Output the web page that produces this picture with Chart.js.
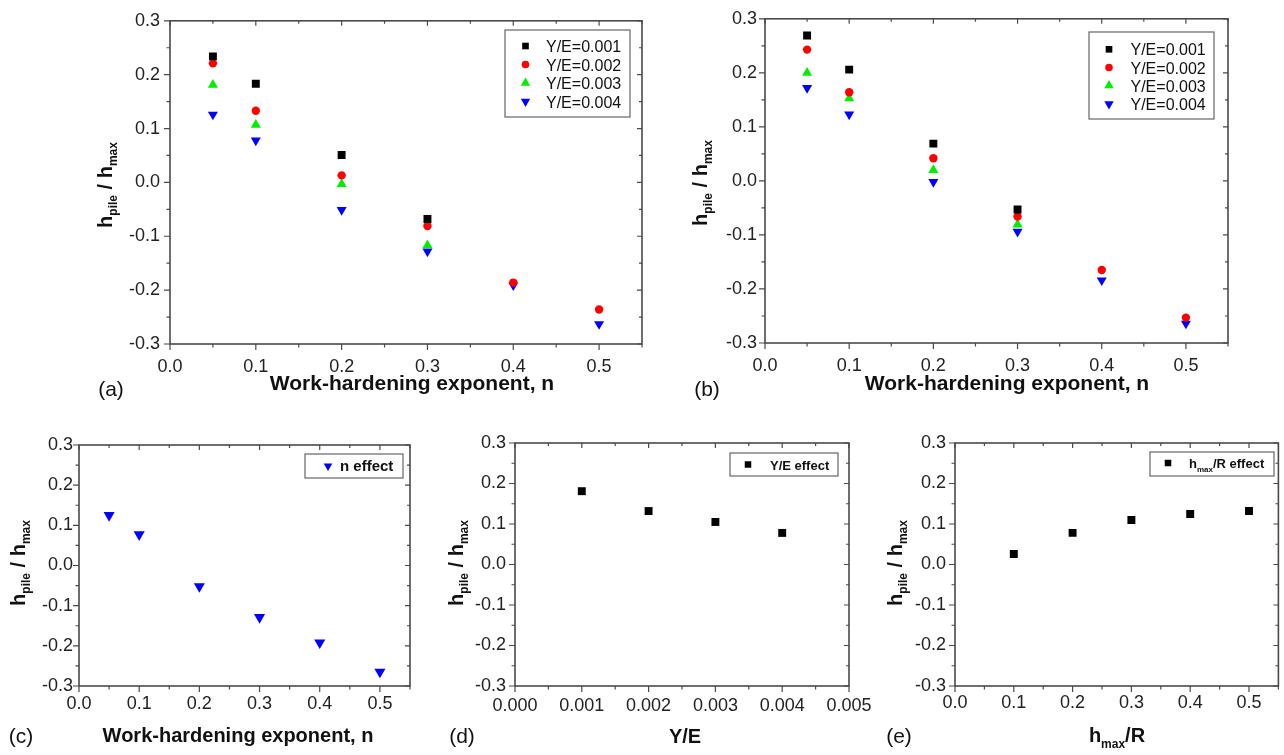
<!DOCTYPE html>
<html><head><meta charset="utf-8">
<script src="https://cdn.jsdelivr.net/npm/chart.js@4.4.0/dist/chart.umd.min.js"></script>
<style>
html,body{margin:0;padding:0;background:#fff;width:1284px;height:755px;overflow:hidden}
#wrap{position:relative;width:1284px;height:755px}
canvas{position:absolute}
</style></head><body>
<div id="wrap">
<canvas id="ca"></canvas><canvas id="cb"></canvas><canvas id="cc"></canvas><canvas id="cd"></canvas><canvas id="ce"></canvas>
</div>
<script>
// ---------------- DATA ----------------
const nValues = [0.05, 0.1, 0.2, 0.3, 0.4, 0.5];
const seriesLabels = ['Y/E=0.001', 'Y/E=0.002', 'Y/E=0.003', 'Y/E=0.004'];
// panel (a)
const a_YE001 = [0.234, 0.183, 0.051, -0.068, null, null];
const a_YE002 = [0.221, 0.133, 0.013, -0.081, -0.186, -0.236];
const a_YE003 = [0.181, 0.107, -0.003, -0.117, null, null];
const a_YE004 = [0.126, 0.078, -0.051, -0.128, -0.191, -0.263];
// panel (b)
const b_YE001 = [0.269, 0.206, 0.069, -0.053, null, null];
const b_YE002 = [0.243, 0.164, 0.042, -0.066, -0.165, -0.253];
const b_YE003 = [0.200, 0.153, 0.020, -0.081, null, null];
const b_YE004 = [0.172, 0.123, -0.002, -0.094, -0.184, -0.264];
// panel (c)
const c_label = 'n effect';
const c_nEffect = [0.125, 0.077, -0.052, -0.129, -0.192, -0.265];
// panel (d)
const d_label = 'Y/E effect';
const d_YE = [0.001, 0.002, 0.003, 0.004];
const d_effect = [0.181, 0.132, 0.105, 0.078];
// panel (e)
const e_hR = [0.1, 0.2, 0.3, 0.4, 0.5];
const e_effect = [0.026, 0.078, 0.110, 0.1245, 0.132];
// tick labels
const yTicks = [-0.3, -0.2, -0.1, 0.0, 0.1, 0.2, 0.3];
const nTicks = [0.0, 0.1, 0.2, 0.3, 0.4, 0.5];
const yeTicks = [0.000, 0.001, 0.002, 0.003, 0.004, 0.005];
const hrTicks = [0.0, 0.1, 0.2, 0.3, 0.4, 0.5];

// ---------------- STYLE ----------------
const FONT = '"Liberation Sans", Arial, Helvetica, sans-serif';
const FRAME = '#4a4a4a';
const TICKSIZE = 18;
const markers = [
  {pointStyle:'rect', pointRadius:5.6, pointRotation:0, backgroundColor:'#000000'},
  {pointStyle:'circle', pointRadius:4.2, pointRotation:0, backgroundColor:'#ff0000'},
  {pointStyle:'triangle', pointRadius:5.8, pointRotation:0, backgroundColor:'#00ee00'},
  {pointStyle:'triangle', pointRadius:5.8, pointRotation:180, backgroundColor:'#0000ff'}
];
function pts(xs, ys){ const o=[]; xs.forEach((x,i)=>{ if(ys[i]!==null) o.push({x:x,y:ys[i]}); }); return o; }
function ds(label, xs, ys, m, extra){
  return Object.assign({label:label, data:pts(xs,ys), borderWidth:0, borderColor:m.backgroundColor,
    pointBorderWidth:0, pointHoverRadius:m.pointRadius, showLine:false}, m, extra||{});
}

function drawRich(ctx, segs, cx, cy, rot, size, subSize, subShift, weight){
  ctx.save(); ctx.translate(cx, cy); ctx.rotate(rot);
  let w = 0;
  segs.forEach(s=>{ ctx.font = weight+' '+(s.sub?subSize:size)+'px '+FONT; s.w = ctx.measureText(s.t).width; w += s.w; });
  let x = -w/2; ctx.textAlign='left'; ctx.textBaseline='alphabetic'; ctx.fillStyle='#111';
  segs.forEach(s=>{ ctx.font = weight+' '+(s.sub?subSize:size)+'px '+FONT; ctx.fillText(s.t, x, s.sub?subShift:0); x += s.w; });
  ctx.restore();
}
function drawRichLeft(ctx, segs, x, y, size, subSize, subShift, weight){
  ctx.save(); ctx.textAlign='left'; ctx.textBaseline='alphabetic'; ctx.fillStyle='#111';
  segs.forEach(s=>{ ctx.font = weight+' '+(s.sub?subSize:size)+'px '+FONT; ctx.fillText(s.t, x, y+(s.sub?subShift:0)); x += ctx.measureText(s.t).width; });
  ctx.restore();
}
const yTitleSegs = ()=>[{t:'h'},{t:'pile',sub:true},{t:' / h'},{t:'max',sub:true}];

const panelPlugin = {
  id:'panelDeco',
  beforeDatasetsDraw(chart){
    const P = chart.options.plugins.panelDeco;
    const {ctx, chartArea:a, scales:{x, y}} = chart;
    ctx.save();
    ctx.strokeStyle = FRAME; ctx.lineWidth = 1.6;
    ctx.strokeRect(a.left, a.top, a.right-a.left, a.bottom-a.top);
    ctx.lineWidth = 1.2; ctx.beginPath();
    for(let i=0;;i++){
      const v = x.min + i*P.xMinor; if(v > x.max + P.xMinor*0.01) break;
      const px = x.getPixelForValue(v); const major = i%2===0;
      ctx.moveTo(px, a.bottom); ctx.lineTo(px, a.bottom + (major?6:3.5));
      ctx.moveTo(px, a.top); ctx.lineTo(px, a.top + (major?5:3));
    }
    for(let i=0;;i++){
      const v = y.min + i*P.yMinor; if(v > y.max + P.yMinor*0.01) break;
      const py = y.getPixelForValue(v); const major = i%2===0;
      ctx.moveTo(a.left, py); ctx.lineTo(a.left - (major?6:3.5), py);
      ctx.moveTo(a.right, py); ctx.lineTo(a.right - (major?5:3), py);
    }
    ctx.stroke(); ctx.restore();
  },
  afterDatasetsDraw(chart){
    const P = chart.options.plugins.panelDeco;
    const ctx = chart.ctx; const ox = P.left, oy = P.top;
    // legend
    const L = P.legend;
    ctx.save();
    ctx.fillStyle='#fff'; ctx.fillRect(L.x0-ox, L.y0-oy, L.x1-L.x0, L.y1-L.y0);
    ctx.strokeStyle='#666'; ctx.lineWidth=1.2; ctx.strokeRect(L.x0-ox, L.y0-oy, L.x1-L.x0, L.y1-L.y0);
    chart.data.datasets.forEach((d,i)=>{
      const ry = L.rows[i]-oy;
      ctx.fillStyle = d.backgroundColor;
      Chart.helpers.drawPoint(ctx, {pointStyle:d.pointStyle, radius:L.r[i]!==undefined?L.r[i]:d.pointRadius, rotation:d.pointRotation||0, borderWidth:0}, L.mx-ox, ry);
      if(L.rich){ drawRichLeft(ctx, L.rich, L.tx-ox, ry+L.bl, L.size, L.subSize, L.subShift, L.weight); }
      else {
        ctx.fillStyle='#111'; ctx.font = L.weight+' '+L.size+'px '+FONT; ctx.textAlign='left'; ctx.textBaseline='alphabetic';
        ctx.fillText(d.label, L.tx-ox, ry+L.bl);
      }
    });
    ctx.restore();
    // y title
    const YT = P.yTitle;
    drawRich(ctx, yTitleSegs(), YT.x-ox, YT.y-oy, -Math.PI/2, 20, 12, 5, 'bold');
    // x title
    const XT = P.xTitle;
    drawRich(ctx, XT.segs, XT.x-ox, XT.y-oy, 0, XT.size, 12, 6, 'bold');
    // tag
    ctx.save(); ctx.fillStyle='#111'; ctx.font='21px '+FONT; ctx.textAlign='center'; ctx.textBaseline='alphabetic';
    ctx.fillText(P.tag.t, P.tag.x-ox, P.tag.y-oy); ctx.restore();
  }
};

function makePanel(id, cfg){
  const c = document.getElementById(id);
  c.width = cfg.w; c.height = cfg.h; c.style.left = cfg.left+'px'; c.style.top = cfg.top+'px';
  const A = cfg.area;
  cfg.deco.left = cfg.left; cfg.deco.top = cfg.top;
  new Chart(c, {
    type:'scatter',
    data:{datasets:cfg.datasets},
    plugins:[panelPlugin],
    options:{
      responsive:false, animation:false, events:[],
      layout:{padding:{left:0, top:A.t-cfg.top, right:cfg.left+cfg.w-A.r, bottom:0}},
      plugins:{legend:{display:false}, tooltip:{enabled:false}, panelDeco:cfg.deco},
      scales:{
        x:{type:'linear', min:cfg.xMin, max:cfg.xMax,
          afterBuildTicks:s=>{ s.ticks = cfg.xTicks.map(v=>({value:v})); },
          afterFit:s=>{ s.height = cfg.top+cfg.h-A.b; },
          grid:{display:false, drawTicks:false}, border:{display:false},
          ticks:{padding:cfg.xPad, autoSkip:false, maxRotation:0, color:'#222', font:{family:FONT, size:TICKSIZE},
            callback:v=>Number(v).toFixed(cfg.xDec)}},
        y:{type:'linear', min:-0.3, max:0.3,
          afterBuildTicks:s=>{ s.ticks = yTicks.map(v=>({value:v})); },
          afterFit:s=>{ s.width = A.l-cfg.left; },
          grid:{display:false, drawTicks:false}, border:{display:false},
          ticks:{padding:cfg.yPad, autoSkip:false, color:'#222', font:{family:FONT, size:TICKSIZE},
            callback:v=>Number(v).toFixed(1)}}
      }
    }
  });
}

const workTitle = ()=>[{t:'Work-hardening exponent, n'}];
const topLegR = [4.7, 3.8, 5.4, 5.4];

makePanel('ca', {left:0, top:0, w:660, h:410, area:{l:170, t:19, r:642, b:344},
  xMin:0, xMax:0.55, xTicks:nTicks, xDec:1, xPad:12, yPad:10,
  datasets:[ds(seriesLabels[0], nValues, a_YE001, markers[0]), ds(seriesLabels[1], nValues, a_YE002, markers[1]),
            ds(seriesLabels[2], nValues, a_YE003, markers[2]), ds(seriesLabels[3], nValues, a_YE004, markers[3])],
  deco:{xMinor:0.05, yMinor:0.05,
    legend:{x0:505, y0:30, x1:630, y1:117, rows:[46, 64.5, 83, 101.5], mx:525.5, tx:546, bl:6, size:16, weight:'normal', r:topLegR},
    yTitle:{x:112, y:185}, xTitle:{x:412, y:390, size:21, segs:workTitle()}, tag:{t:'(a)', x:111, y:396}}
});

makePanel('cb', {left:660, top:0, w:624, h:410, area:{l:765, t:16, r:1228, b:343},
  xMin:0, xMax:0.55, xTicks:nTicks, xDec:1, xPad:12, yPad:8,
  datasets:[ds(seriesLabels[0], nValues, b_YE001, markers[0]), ds(seriesLabels[1], nValues, b_YE002, markers[1]),
            ds(seriesLabels[2], nValues, b_YE003, markers[2]), ds(seriesLabels[3], nValues, b_YE004, markers[3])],
  deco:{xMinor:0.05, yMinor:0.05,
    legend:{x0:1089, y0:32, x1:1214, y1:119, rows:[49.3, 67.5, 85.5, 104], mx:1109, tx:1130.5, bl:6, size:16, weight:'normal', r:topLegR},
    yTitle:{x:707, y:183}, xTitle:{x:1007, y:390, size:21, segs:workTitle()}, tag:{t:'(b)', x:707, y:396}}
});

makePanel('cc', {left:0, top:420, w:430, h:335, area:{l:79, t:445, r:410, b:686},
  xMin:0, xMax:0.55, xTicks:nTicks, xDec:1, xPad:7, yPad:6,
  datasets:[ds(c_label, nValues, c_nEffect, markers[3], {pointRadius:6.4})],
  deco:{xMinor:0.05, yMinor:0.05,
    legend:{x0:305, y0:454, x1:403, y1:478, rows:[466], mx:328, tx:340, bl:5, size:15, weight:'bold', r:[5]},
    yTitle:{x:25, y:563}, xTitle:{x:238, y:742, size:20, segs:workTitle()}, tag:{t:'(c)', x:21, y:743}}
});

makePanel('cd', {left:430, top:420, w:470, h:335, area:{l:515, t:443, r:849, b:686},
  xMin:0, xMax:0.005, xTicks:yeTicks, xDec:3, xPad:9, yPad:9,
  datasets:[ds(d_label, d_YE, d_effect, markers[0])],
  deco:{xMinor:0.0005, yMinor:0.05,
    legend:{x0:730, y0:453, x1:838, y1:476, rows:[464.5], mx:748, tx:770, bl:5, size:13, weight:'bold', r:[4.6]},
    yTitle:{x:463, y:563}, xTitle:{x:685, y:743, size:20, segs:[{t:'Y/E'}]}, tag:{t:'(d)', x:462, y:743}}
});

makePanel('ce', {left:860, top:420, w:424, h:335, area:{l:955, t:443, r:1283, b:686},
  xMin:0, xMax:0.55, xTicks:hrTicks, xDec:1, xPad:6, yPad:9,
  datasets:[ds('hmax/R effect', e_hR, e_effect, markers[0])],
  deco:{xMinor:0.05, yMinor:0.05,
    legend:{x0:1150, y0:452, x1:1274, y1:476, rows:[463], mx:1168, tx:1189, bl:5, size:13, subSize:8, subShift:4, weight:'bold', r:[4.6],
      rich:[{t:'h'},{t:'max',sub:true},{t:'/R effect'}]},
    yTitle:{x:902, y:563}, xTitle:{x:1117, y:742, size:20, segs:[{t:'h'},{t:'max',sub:true},{t:'/R'}]}, tag:{t:'(e)', x:899, y:743}}
});
</script>
</body></html>
